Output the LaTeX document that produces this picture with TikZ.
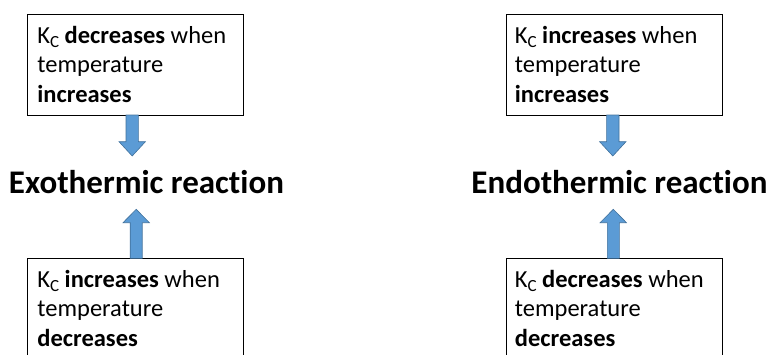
\documentclass[tikz,border=0pt]{standalone}
\usepackage{fontspec}
\setmainfont[Ligatures=NoCommon]{Carlito}
\usetikzlibrary{calc}
\definecolor{arrowfill}{HTML}{5B9BD5}
\definecolor{arrowline}{HTML}{41719C}
\newcommand{\kcsym}{K\raisebox{-4.5pt}{\fontsize{17}{17}\selectfont C}}
\tikzset{
  kbox/.style={draw=black, line width=0.9pt, rectangle, minimum width=216pt, minimum height=101pt, inner sep=0pt, anchor=north west},
  ktext/.style={anchor=north west, inner sep=0pt, align=left, font=\fontsize{24.5}{29.5}\selectfont},
  ttl/.style={anchor=base, inner sep=0pt, font=\fontsize{33}{36}\selectfont\bfseries},
  blk/.style={fill=arrowfill, draw=arrowline, line width=0.6pt, line join=miter}
}
\begin{document}
\begin{tikzpicture}[x=1pt,y=1pt]
\useasboundingbox (0,0) rectangle (771,-354);
% boxes
\node[kbox] (b1) at (26.7,-14.3) {};
\node[kbox] (b2) at (26.7,-258.3) {};
\node[kbox] (b3) at (505.7,-14.3) {};
\node[kbox] (b4) at (505.7,-258.3) {};
% texts
\node[ktext] (t1) at ($(b1.north west)+(10.5,-8)$) {\strut\kcsym{} \textbf{decreases} when\\\strut temperature\\\strut\textbf{increases}};
\node[ktext] (t2) at ($(b2.north west)+(10.5,-8)$) {\strut\kcsym{} \textbf{increases} when\\\strut temperature\\\strut\textbf{decreases}};
\node[ktext] (t3) at ($(b3.north west)+(9,-8)$) {\strut\kcsym{} \textbf{increases} when\\\strut temperature\\\strut\textbf{increases}};
\node[ktext] (t4) at ($(b4.north west)+(9,-8)$) {\strut\kcsym{} \textbf{decreases} when\\\strut temperature\\\strut\textbf{decreases}};
% titles
\node[ttl] (exo) at (146.5,-193) {Exothermic reaction};
\node[ttl] (endo) at (619.5,-193) {Endothermic reaction};
% arrow coordinates
\coordinate (a1s) at (132.2,-115);  \coordinate (a1t) at (132.2,-156);
\coordinate (a2s) at (136.2,-258.3); \coordinate (a2t) at (136.2,-209.3);
\coordinate (a3s) at (612.8,-115);  \coordinate (a3t) at (612.8,-156);
\coordinate (a4s) at (613.3,-258.3); \coordinate (a4t) at (613.3,-209.3);
% down arrows
\foreach \s/\t in {a1s/a1t, a3s/a3t}{
  \filldraw[blk] ($(\s)+(-6.2,0)$) -- ($(\t)+(-6.2,14.3)$) -- ($(\t)+(-13.2,14.3)$) -- (\t)
     -- ($(\t)+(13.2,14.3)$) -- ($(\t)+(6.2,14.3)$) -- ($(\s)+(6.2,0)$) -- cycle;
}
% up arrows
\foreach \s/\t in {a2s/a2t, a4s/a4t}{
  \filldraw[blk] ($(\s)+(-6,0)$) -- ($(\t)+(-6,-13.4)$) -- ($(\t)+(-13.2,-13.4)$) -- (\t)
     -- ($(\t)+(13.2,-13.4)$) -- ($(\t)+(6,-13.4)$) -- ($(\s)+(6,0)$) -- cycle;
}
\end{tikzpicture}
\end{document}
